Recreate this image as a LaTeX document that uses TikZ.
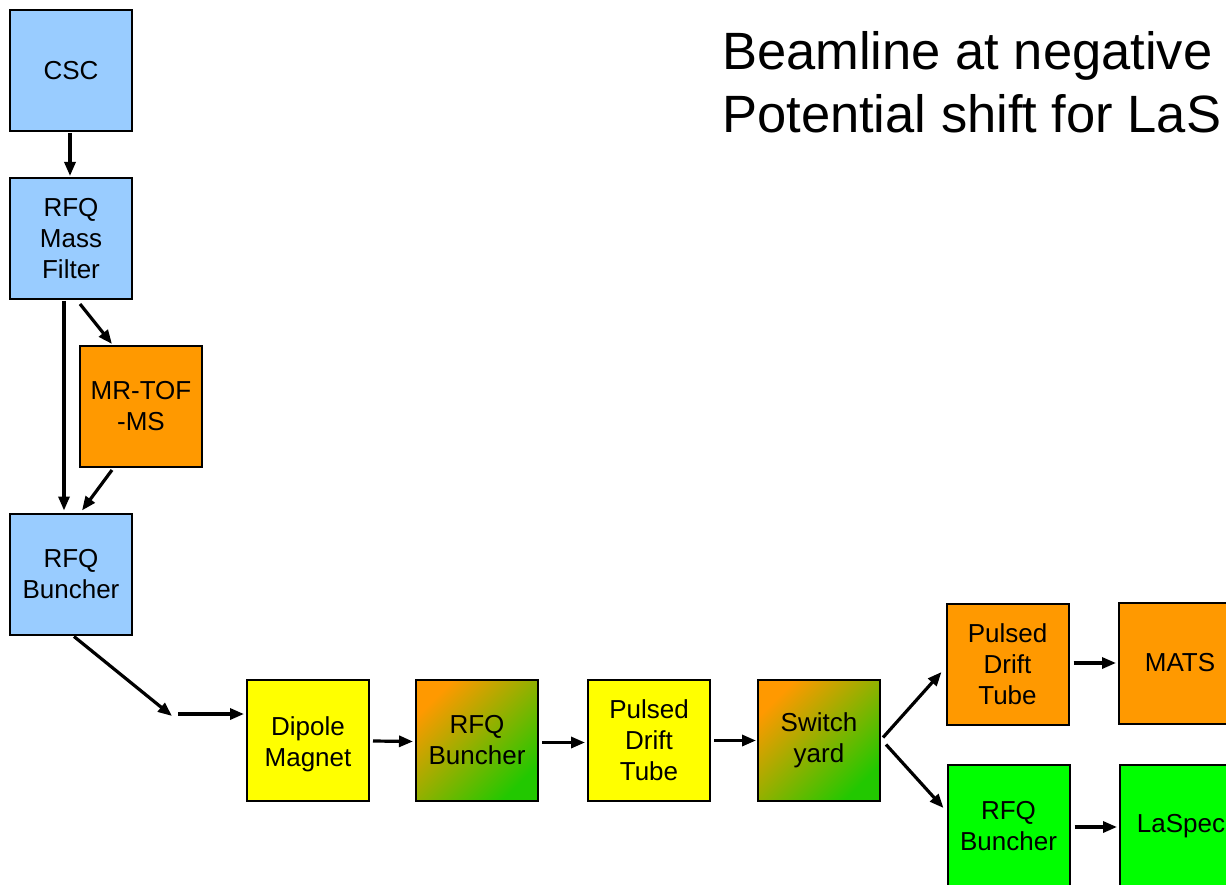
\documentclass[tikz,border=0pt]{standalone}
\usepackage{fontspec}
\setmainfont{Liberation Sans}
\usetikzlibrary{arrows.meta,calc}
\definecolor{skyblue}{HTML}{99CCFF}
\definecolor{amber}{HTML}{FF9900}
\definecolor{lemon}{HTML}{FFFF00}
\definecolor{lime}{HTML}{00FF00}
\definecolor{leaf}{HTML}{22C800}
\begin{document}
\begin{tikzpicture}[x=1pt,y=-1pt,
  boxtext/.style={align=center,font=\fontsize{26}{31}\selectfont},
  box/.style={draw=black,line width=2pt,minimum width=122pt,minimum height=121pt,
    inner sep=0pt,boxtext},
  blue/.style={box,fill=skyblue},
  orng/.style={box,fill=amber},
  yell/.style={box,fill=lemon},
  grn/.style={box,fill=lime},
  mixed/.style={box,top color=amber,bottom color=leaf,shading angle=45},
  arr/.style={line width=3.2pt,-{Triangle[length=14pt,width=11pt]}},
  title/.style={anchor=north west,align=left,inner sep=0pt,font=\fontsize{52.5}{63}\selectfont}]
\useasboundingbox (0,0) rectangle (1226,885);
\clip (0,0) rectangle (1226,885);

% vertical ion source branch
\node[blue] (csc) at (71,70.5) {CSC};
\node[blue] (mf) at (71,238.5) {RFQ\\Mass\\Filter};
\node[orng] (mrtof) at (141,406.5) {MR-TOF\\-MS};
\node[blue] (rb1) at (71,574) {RFQ\\Buncher};

% horizontal beamline
\node[yell,label={[boxtext,inner sep=0pt,yshift=-4pt]center:{Dipole\\Magnet}}] (dip) at (308,740) {};
\node[mixed] (rb2) at (477,740.5) {RFQ\\Buncher};
\node[yell] (pdt1) at (649,740.5) {Pulsed\\Drift\\Tube};
\node[mixed] (sw) at (819,740.5) {Switch\\yard};

% two experiment branches
\node[orng] (pdt2) at (1007.5,664) {Pulsed\\Drift\\Tube};
\node[orng] (mats) at (1180,663) {MATS};
\node[grn,minimum height=122pt] (rb3) at (1008.5,826) {RFQ\\Buncher};
\node[grn,minimum height=122pt] (laspec) at (1181,826) {LaSpec};

\node[title] (ttl) at (722,31) {Beamline at negative\\Potential shift for LaS};

\coordinate (bend) at (175,714);

% connectors
\draw[arr] ($(csc.south)+(-1,1)$) -- ($(mf.north)+(-1,-1)$);
\draw[arr] ($(mf.south)+(-7,1)$) -- ($(rb1.north)+(-7,-2)$);
\draw[arr] ($(mf.south)+(9,4)$) -- ($(mrtof.north)+(-29,-1)$);
\draw[arr] ($(mrtof.south)+(-29,2)$) -- ($(rb1.north)+(11,-2)$);
\draw[arr] ($(rb1.south)+(3,1)$) -- ($(bend)+(-3,2)$);
\draw[arr] ($(bend)+(3,0)$) -- ($(dip.west)+(-2,-26)$);
\draw[arr] ($(dip.east)+(3,1)$) -- ($(rb2.west)+(-2,1)$);
\draw[arr] ($(rb2.east)+(3,2)$) -- ($(pdt1.west)+(-2,2)$);
\draw[arr] ($(pdt1.east)+(3,0)$) -- ($(sw.west)+(-1,0)$);
\draw[arr] ($(sw.east)+(2,-3)$) -- ($(pdt2.west)+(-4,8)$);
\draw[arr] ($(sw.east)+(5,4)$) -- ($(rb3.west)+(-3,-18)$);
\draw[arr] ($(pdt2.east)+(4,-1)$) -- ($(mats.west)+(-2,0)$);
\draw[arr] ($(rb3.east)+(4,1)$) -- ($(laspec.west)+(-2,1)$);
\end{tikzpicture}
\end{document}
